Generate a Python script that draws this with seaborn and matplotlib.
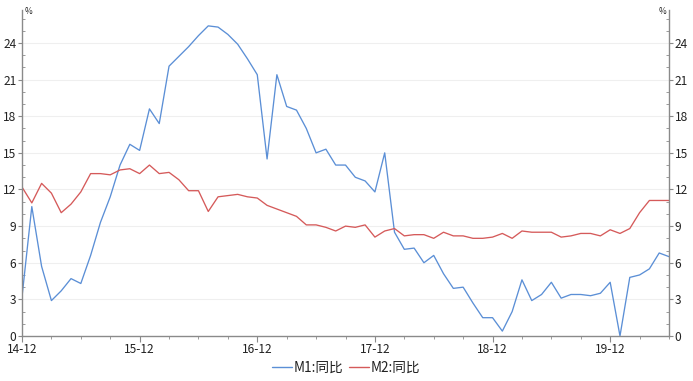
import numpy as np
import pandas as pd
import matplotlib
matplotlib.use("Agg")
import matplotlib.pyplot as plt
import seaborn as sns
from matplotlib.ticker import MultipleLocator
from matplotlib.lines import Line2D

months = pd.period_range("2014-12", "2020-06", freq="M")
m1 = [3.2, 10.6, 5.7, 2.9, 3.7, 4.7, 4.3, 6.6, 9.3, 11.4, 14.0, 15.7,
      15.2, 18.6, 17.4, 22.1, 22.9, 23.7, 24.6, 25.4, 25.3, 24.7, 23.9, 22.7,
      21.4, 14.5, 21.4, 18.8, 18.5, 17.0, 15.0, 15.3, 14.0, 14.0, 13.0, 12.7,
      11.8, 15.0, 8.5, 7.1, 7.2, 6.0, 6.6, 5.1, 3.9, 4.0, 2.7, 1.5,
      1.5, 0.4, 2.0, 4.6, 2.9, 3.4, 4.4, 3.1, 3.4, 3.4, 3.3, 3.5,
      4.4, 0.0, 4.8, 5.0, 5.5, 6.8, 6.5]
m2 = [12.2, 10.9, 12.5, 11.7, 10.1, 10.8, 11.8, 13.3, 13.3, 13.2, 13.6, 13.7,
      13.3, 14.0, 13.3, 13.4, 12.8, 11.9, 11.9, 10.2, 11.4, 11.5, 11.6, 11.4,
      11.3, 10.7, 10.4, 10.1, 9.8, 9.1, 9.1, 8.9, 8.6, 9.0, 8.9, 9.1,
      8.1, 8.6, 8.8, 8.2, 8.3, 8.3, 8.0, 8.5, 8.2, 8.2, 8.0, 8.0,
      8.1, 8.4, 8.0, 8.6, 8.5, 8.5, 8.5, 8.1, 8.2, 8.4, 8.4, 8.2,
      8.7, 8.4, 8.8, 10.1, 11.1, 11.1, 11.1]
x_labels = ["14-12", "15-12", "16-12", "17-12", "18-12", "19-12"]
series_names = ["M1:同比", "M2:同比"]
colors = ["#5b8fd6", "#d55a5a"]

sns.set_theme(style="white")
plt.rcParams['font.family'] = ['Noto Sans CJK SC', 'DejaVu Sans']
plt.rcParams['axes.unicode_minus'] = False

idx = np.arange(len(months))
df = pd.DataFrame({"idx": np.concatenate([idx, idx]),
                   "value": m1 + m2,
                   "series": [series_names[0]] * len(m1) + [series_names[1]] * len(m2)})

fig = plt.figure(figsize=(6.93, 3.81), dpi=100)
ax = fig.add_axes([22/693, 1-336/381, (669-22)/693, (336-10)/381])
sns.lineplot(data=df, x="idx", y="value", hue="series", palette=colors,
             linewidth=0.95, ax=ax, legend=False)

ax.set_xlim(0, 66)
ax.set_ylim(0, 26.7)
ax.set_xlabel("")
ax.set_ylabel("")
ax.set_xticks(np.arange(0, 61, 12))
ax.set_xticklabels(x_labels)
ax.xaxis.set_minor_locator(MultipleLocator(3))
ax.set_yticks(np.arange(0, 25, 3))
ax.yaxis.set_minor_locator(MultipleLocator(1))
for v in np.arange(3, 25, 3):
    ax.axhline(v, color="#efefef", lw=0.8, zorder=0)

spine_c = "#8a8a8a"
for s in ["left", "right", "bottom"]:
    ax.spines[s].set_visible(True)
    ax.spines[s].set_color(spine_c)
    ax.spines[s].set_linewidth(1.0)
ax.spines["top"].set_visible(False)

ax.tick_params(axis="y", which="major", left=True, right=True, labelleft=True, labelright=True,
               direction="out", length=3, width=0.8, color=spine_c, labelsize=8.6, pad=1, labelcolor="#222222")
ax.tick_params(axis="y", which="minor", left=True, right=True, direction="in", length=2.5, width=0.6, color=spine_c)
ax.tick_params(axis="x", which="major", bottom=True, direction="out", length=4, width=0.8, color=spine_c,
               labelsize=8.6, pad=1, labelcolor="#222222")
ax.tick_params(axis="x", which="minor", bottom=True, direction="out", length=2.5, width=0.6, color=spine_c)

fig.text(25/693, 1-12/381, "%", fontsize=6, ha="left", va="center", color="#222222")
fig.text(666/693, 1-12/381, "%", fontsize=6, ha="right", va="center", color="#222222")

handles = [Line2D([0], [0], color=c, lw=1.0) for c in colors]
fig.legend(handles, series_names, loc="center", bbox_to_anchor=(346/693, 1-368/381), ncol=2,
           frameon=False, fontsize=9.8, handlelength=1.5, handletextpad=0.1, columnspacing=0.4,
           labelcolor="#222222")

fig.savefig("out.png", dpi=100)
